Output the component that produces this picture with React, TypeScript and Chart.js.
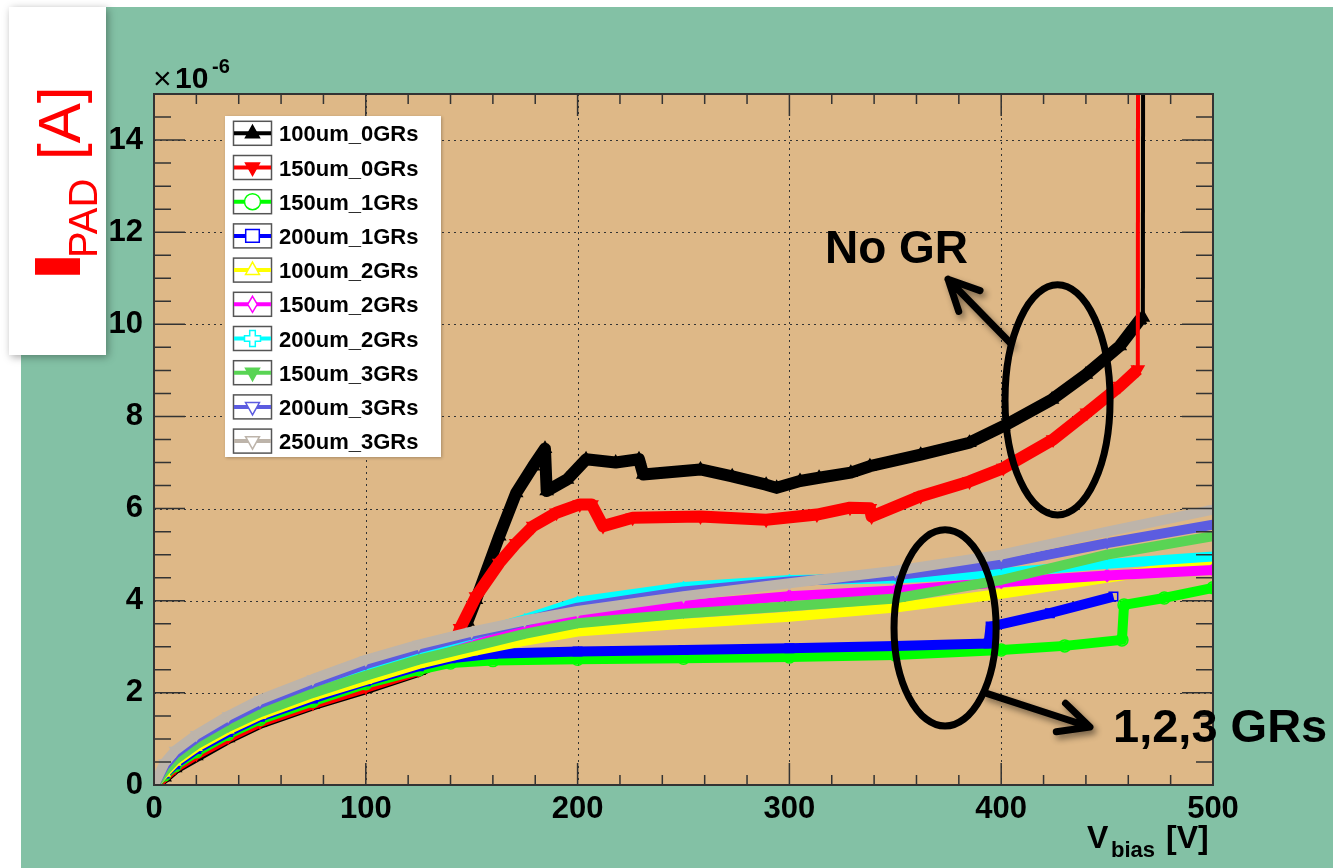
import React, { useEffect, useRef } from 'react';
import { Chart, registerables } from 'chart.js';
Chart.register(...registerables);

const W = 1333;
const H = 868;
const FONT = '"Liberation Sans", Arial, Helvetica, sans-serif';
const GREEN_BG = '#83C1A5';
const TAN_BG = '#DEB887';

// ---------- data (current in units of 1e-6 A, bias in V) ----------
const seriesNames = [
  '100um_0GRs', '150um_0GRs', '150um_1GRs', '200um_1GRs', '100um_2GRs',
  '150um_2GRs', '200um_2GRs', '150um_3GRs', '200um_3GRs', '250um_3GRs',
];

const v100_0 = [0, 5, 10, 20, 35, 50, 75, 100, 125, 140, 148, 152, 163, 171, 179, 184.6, 185.4, 195, 204, 218, 229, 231, 258, 273, 289, 294, 305, 314, 329, 338, 362, 385, 401, 424, 440, 456, 465.5, 466.9, 467];
const i100_0 = [0, 0.17, 0.37, 0.63, 1.02, 1.35, 1.75, 2.1, 2.48, 2.8, 3.55, 4.02, 5.4, 6.34, 6.92, 7.3, 6.38, 6.63, 7.07, 7.0, 7.07, 6.74, 6.85, 6.7, 6.52, 6.45, 6.6, 6.67, 6.78, 6.92, 7.17, 7.43, 7.79, 8.37, 8.91, 9.53, 10.1, 10.15, 16];

const v150_0 = [0, 5, 10, 20, 35, 50, 75, 100, 125, 140, 144.5, 152, 163, 171, 179, 190, 201, 206.6, 212, 226, 258, 289, 313, 328.6, 338, 338.8, 362, 385, 401, 424.5, 440.5, 456, 464.5, 464.6];
const i150_0 = [0, 0.2, 0.4, 0.68, 1.05, 1.38, 1.78, 2.13, 2.5, 2.8, 3.4, 4.09, 4.82, 5.25, 5.62, 5.91, 6.09, 6.09, 5.62, 5.8, 5.83, 5.76, 5.87, 6.02, 6.01, 5.83, 6.27, 6.59, 6.88, 7.5, 8.08, 8.66, 9.02, 16];

const v150_1 = [0, 5, 10, 20, 35, 50, 75, 100, 125, 140, 160, 200, 250, 300, 350, 400, 430, 457, 458, 477, 500];
const i150_1 = [0, 0.22, 0.42, 0.72, 1.1, 1.42, 1.82, 2.2, 2.5, 2.65, 2.7, 2.73, 2.75, 2.78, 2.82, 2.93, 3.02, 3.15, 3.91, 4.06, 4.28];

const v200_1 = [0, 5, 10, 20, 35, 50, 75, 100, 125, 140, 160, 200, 250, 300, 350, 394, 395, 423, 453];
const i200_1 = [0, 0.25, 0.45, 0.78, 1.15, 1.48, 1.88, 2.25, 2.58, 2.75, 2.85, 2.9, 2.93, 2.97, 3.02, 3.07, 3.44, 3.73, 4.09];

const vGR = [0, 5, 10, 20, 35, 50, 75, 100, 125, 150, 175, 200, 250, 300, 350, 400, 450, 500];
const i100_2 = [0, 0.26, 0.5, 0.82, 1.2, 1.52, 1.93, 2.28, 2.63, 2.9, 3.13, 3.33, 3.5, 3.65, 3.85, 4.15, 4.5, 4.85];
const i150_2 = [0, 0.32, 0.56, 0.9, 1.29, 1.62, 2.05, 2.43, 2.8, 3.1, 3.4, 3.66, 3.9, 4.1, 4.22, 4.4, 4.55, 4.67];
const i200_2 = [0, 0.35, 0.6, 0.93, 1.33, 1.66, 2.1, 2.5, 2.9, 3.25, 3.6, 3.98, 4.3, 4.45, 4.48, 4.6, 4.8, 4.96];
const i150_3 = [0, 0.3, 0.55, 0.88, 1.26, 1.58, 2.0, 2.37, 2.72, 3.0, 3.28, 3.51, 3.72, 3.88, 4.05, 4.45, 5.0, 5.4];
const i200_3 = [0, 0.42, 0.68, 1.02, 1.42, 1.77, 2.22, 2.62, 2.97, 3.27, 3.55, 3.85, 4.2, 4.42, 4.55, 4.8, 5.25, 5.65];
const i250_3 = [0, 0.48, 0.75, 1.09, 1.5, 1.85, 2.3, 2.72, 3.05, 3.33, 3.57, 3.78, 4.1, 4.38, 4.65, 5.0, 5.5, 5.98];

const xTickValues = [0, 100, 200, 300, 400, 500];
const yTickValues = [0, 2, 4, 6, 8, 10, 12, 14];

// ---------- styles ----------
const seriesColors = ['#000000', '#FF0000', '#00FF00', '#0000FF', '#FFFF00', '#FF00FF', '#00FFFF', '#59D454', '#5C5CE0', '#BDB4AA'];
const seriesMarkers = ['triangle', 'triangle', 'circle', 'rect', 'triangle', 'rectRot', 'cross', 'triangle', 'triangle', 'triangle'];
const seriesRotation = [0, 180, 0, 0, 0, 0, 0, 180, 180, 180];
const seriesFilled = [true, true, false, false, false, false, false, true, false, false];
const seriesBand = [12, 12, 10, 10, 10, 10, 10, 10, 10, 10];
const seriesRadius = [7, 7, 6, 6, 6, 6, 6, 4, 5, 6];

const seriesV = [v100_0, v150_0, v150_1, v200_1, vGR, vGR, vGR, vGR, vGR, vGR];
const seriesI = [i100_0, i150_0, i150_1, i200_1, i100_2, i150_2, i200_2, i150_3, i200_3, i250_3];

// annotation anchors in data coordinates
const noGrText = { text: 'No GR', v: 316.8, i: 11.33 };
const grText = { text: '1,2,3 GRs', v: 452.8, i: 0.93 };
const ellipseNoGR = { v: 426.6, i: 8.36, rv: 24.8, ri: 2.5 };
const ellipseGR = { v: 373.5, i: 3.41, rv: 24.1, ri: 2.13 };
const arrowNoGR = { v1: 404.2, i1: 9.6, v2: 374.9, i2: 10.98 };
const arrowGR = { v1: 392.4, i1: 2.0, v2: 441.9, i2: 1.26 };

function drawMarker(ctx: CanvasRenderingContext2D, style: string, x: number, y: number, r: number, rot: number, color: string, filled: boolean) {
  ctx.save();
  ctx.translate(x, y);
  ctx.rotate((rot * Math.PI) / 180);
  ctx.beginPath();
  if (style === 'triangle') {
    ctx.moveTo(0, -r);
    ctx.lineTo(r * 0.87, r * 0.55);
    ctx.lineTo(-r * 0.87, r * 0.55);
    ctx.closePath();
  } else if (style === 'circle') {
    ctx.arc(0, 0, r, 0, Math.PI * 2);
  } else if (style === 'rect') {
    ctx.rect(-r * 0.85, -r * 0.8, r * 1.7, r * 1.6);
  } else if (style === 'rectRot') {
    ctx.moveTo(0, -r);
    ctx.lineTo(r * 0.6, 0);
    ctx.lineTo(0, r);
    ctx.lineTo(-r * 0.6, 0);
    ctx.closePath();
  } else if (style === 'cross') {
    const a = r * 0.35;
    ctx.moveTo(-a, -r); ctx.lineTo(a, -r); ctx.lineTo(a, -a); ctx.lineTo(r, -a); ctx.lineTo(r, a);
    ctx.lineTo(a, a); ctx.lineTo(a, r); ctx.lineTo(-a, r); ctx.lineTo(-a, a); ctx.lineTo(-r, a);
    ctx.lineTo(-r, -a); ctx.lineTo(-a, -a); ctx.closePath();
  }
  ctx.fillStyle = filled ? color : '#fff';
  ctx.fill();
  ctx.strokeStyle = color;
  ctx.lineWidth = 1.5;
  ctx.stroke();
  ctx.restore();
}

function drawArrow(ctx: CanvasRenderingContext2D, x1: number, y1: number, x2: number, y2: number) {
  ctx.save();
  ctx.shadowColor = 'rgba(0,0,0,0.45)';
  ctx.shadowBlur = 6;
  ctx.shadowOffsetX = 3;
  ctx.shadowOffsetY = 4;
  ctx.strokeStyle = '#000';
  ctx.lineWidth = 7;
  ctx.lineCap = 'round';
  ctx.lineJoin = 'round';
  const ang = Math.atan2(y1 - y2, x1 - x2);
  const hl = 34;
  const ha = (26 * Math.PI) / 180;
  ctx.beginPath();
  ctx.moveTo(x1, y1);
  ctx.lineTo(x2, y2);
  ctx.moveTo(x2 + hl * Math.cos(ang + ha), y2 + hl * Math.sin(ang + ha));
  ctx.lineTo(x2, y2);
  ctx.lineTo(x2 + hl * Math.cos(ang - ha), y2 + hl * Math.sin(ang - ha));
  ctx.stroke();
  ctx.restore();
}

const rootPlugin = {
  id: 'rootStyle',
  beforeDraw(chart: any) {
    const ctx: CanvasRenderingContext2D = chart.ctx;
    const ca = chart.chartArea;
    ctx.save();
    ctx.fillStyle = '#fff';
    ctx.fillRect(0, 0, W, H);
    ctx.fillStyle = GREEN_BG;
    ctx.fillRect(21, 7, W - 21, H - 7);
    ctx.shadowColor = 'rgba(0,0,0,0.35)';
    ctx.shadowBlur = 8;
    ctx.shadowOffsetX = 2;
    ctx.shadowOffsetY = 2;
    ctx.fillStyle = '#fff';
    ctx.fillRect(9, 7, 97, 348);
    ctx.shadowColor = 'rgba(0,0,0,0)';
    ctx.fillStyle = TAN_BG;
    ctx.fillRect(ca.left, ca.top, ca.right - ca.left, ca.bottom - ca.top);

    // Y title: I_PAD [A]
    ctx.save();
    ctx.translate(80, 277);
    ctx.rotate(-Math.PI / 2);
    ctx.fillStyle = '#FF0000';
    ctx.textBaseline = 'alphabetic';
    ctx.textAlign = 'left';
    ctx.save();
    ctx.scale(1.8, 1);
    ctx.font = `bold 64px ${FONT}`;
    ctx.fillText('I', -3, 0);
    ctx.restore();
    ctx.font = `40px ${FONT}`;
    ctx.fillText('PAD', 19, 17);
    ctx.font = `60px ${FONT}`;
    ctx.fillText('[A]', 117, 0);
    ctx.restore();
    ctx.restore();
  },
  beforeDatasetsDraw(chart: any) {
    const ctx: CanvasRenderingContext2D = chart.ctx;
    const ca = chart.chartArea;
    const xs = chart.scales.x;
    const ys = chart.scales.y;
    ctx.save();
    ctx.strokeStyle = '#333';
    ctx.lineWidth = 1;
    ctx.setLineDash([2, 4]);
    ctx.beginPath();
    for (const v of xTickValues) {
      const px = Math.round(xs.getPixelForValue(v)) + 0.5;
      if (px <= ca.left + 2 || px >= ca.right - 2) continue;
      ctx.moveTo(px, ca.top);
      ctx.lineTo(px, ca.bottom);
    }
    for (const v of yTickValues) {
      const py = Math.round(ys.getPixelForValue(v)) + 0.5;
      if (py >= ca.bottom - 2 || py <= ca.top + 2) continue;
      ctx.moveTo(ca.left, py);
      ctx.lineTo(ca.right, py);
    }
    ctx.stroke();
    ctx.restore();
  },
  afterDatasetsDraw(chart: any) {
    const ctx: CanvasRenderingContext2D = chart.ctx;
    const ca = chart.chartArea;
    const xs = chart.scales.x;
    const ys = chart.scales.y;
    ctx.save();
    ctx.strokeStyle = '#333';
    ctx.lineWidth = 1.5;
    ctx.beginPath();
    for (let v = 0; v <= 500; v += 20) {
      const px = xs.getPixelForValue(v);
      const len = v % 100 === 0 ? 22 : 10;
      ctx.moveTo(px, ca.bottom); ctx.lineTo(px, ca.bottom - len);
      ctx.moveTo(px, ca.top); ctx.lineTo(px, ca.top + len);
    }
    for (let v = 0; v <= 15; v += 0.5) {
      const py = ys.getPixelForValue(v);
      const len = v % 2 === 0 ? 31 : 17;
      ctx.moveTo(ca.left, py); ctx.lineTo(ca.left + len, py);
      ctx.moveTo(ca.right, py); ctx.lineTo(ca.right - len, py);
    }
    ctx.stroke();
    ctx.lineWidth = 2;
    ctx.strokeRect(ca.left, ca.top, ca.right - ca.left, ca.bottom - ca.top);
    ctx.restore();
  },
  afterDraw(chart: any) {
    const ctx: CanvasRenderingContext2D = chart.ctx;
    const xs = chart.scales.x;
    const ys = chart.scales.y;
    const ca = chart.chartArea;
    ctx.save();

    // ×10^-6
    ctx.fillStyle = '#000';
    ctx.textBaseline = 'alphabetic';
    ctx.textAlign = 'left';
    ctx.font = `32px ${FONT}`;
    ctx.fillText('×', ca.left - 1, 89);
    ctx.font = `bold 30px ${FONT}`;
    ctx.fillText('10', 175, 88);
    ctx.font = `bold 20px ${FONT}`;
    ctx.fillText('-6', 212, 73);

    // X title: V_bias [V]
    ctx.font = `bold 32px ${FONT}`;
    ctx.fillText('V', 1087, 848);
    ctx.font = `bold 22px ${FONT}`;
    ctx.fillText('bias', 1111, 857);
    ctx.font = `bold 32px ${FONT}`;
    ctx.fillText('[V]', 1166, 848);

    // Legend
    ctx.save();
    ctx.shadowColor = 'rgba(0,0,0,0.25)';
    ctx.shadowBlur = 3;
    ctx.shadowOffsetX = 1;
    ctx.shadowOffsetY = 1;
    ctx.fillStyle = '#fff';
    ctx.fillRect(225, 116, 216, 341);
    ctx.restore();
    seriesNames.forEach((name, k) => {
      const cy = 133.3 + k * 34.2;
      ctx.strokeStyle = '#555';
      ctx.lineWidth = 1.5;
      ctx.strokeRect(233.5, cy - 12, 38, 24);
      ctx.strokeStyle = seriesColors[k];
      ctx.lineWidth = 4;
      ctx.beginPath();
      ctx.moveTo(234, cy);
      ctx.lineTo(271, cy);
      ctx.stroke();
      drawMarker(ctx, seriesMarkers[k], 252.5, cy, 8, seriesRotation[k], seriesColors[k], seriesFilled[k]);
      ctx.fillStyle = '#000';
      ctx.font = `bold 22px ${FONT}`;
      ctx.fillText(name, 279, cy + 8);
    });

    // Annotations
    ctx.strokeStyle = '#000';
    ctx.lineWidth = 7;
    for (const e of [ellipseNoGR, ellipseGR]) {
      const cx = xs.getPixelForValue(e.v);
      const cy = ys.getPixelForValue(e.i);
      const rx = xs.getPixelForValue(e.v + e.rv) - cx;
      const ry = cy - ys.getPixelForValue(e.i + e.ri);
      ctx.beginPath();
      ctx.ellipse(cx, cy, rx, ry, 0, 0, Math.PI * 2);
      ctx.stroke();
    }
    for (const a of [arrowNoGR, arrowGR]) {
      drawArrow(ctx, xs.getPixelForValue(a.v1), ys.getPixelForValue(a.i1), xs.getPixelForValue(a.v2), ys.getPixelForValue(a.i2));
    }
    ctx.fillStyle = '#000';
    ctx.font = `bold 46px ${FONT}`;
    ctx.fillText(noGrText.text, xs.getPixelForValue(noGrText.v), ys.getPixelForValue(noGrText.i));
    ctx.font = `bold 47px ${FONT}`;
    ctx.fillText(grText.text, xs.getPixelForValue(grText.v), ys.getPixelForValue(grText.i));
    ctx.restore();
  },
};

export default function App() {
  const ref = useRef<HTMLCanvasElement | null>(null);
  useEffect(() => {
    if (!ref.current) return;
    const datasets = seriesNames.map((name, k) => {
      const band = seriesBand[k];
      const rad = seriesRadius[k];
      return {
        label: name,
        data: seriesV[k].map((v, j) => ({ x: v, y: seriesI[k][j] })),
        borderColor: seriesColors[k],
        backgroundColor: seriesColors[k],
        borderWidth: band,
        borderJoinStyle: 'round' as const,
        borderCapStyle: 'butt' as const,
        tension: 0,
        pointStyle: seriesMarkers[k],
        pointRotation: seriesRotation[k],
        pointRadius: (c: any) => (c.raw && c.raw.y > 12 ? 0 : rad),
        pointBorderColor: seriesColors[k],
        pointBackgroundColor: seriesFilled[k] ? seriesColors[k] : 'rgba(0,0,0,0)',
        pointBorderWidth: 1.5,
        order: 10 - k,
        segment: {
          borderWidth: (c: any) => (c.p1.parsed.y > 12 ? 4 : band),
        },
      };
    });
    const tickFont = { family: FONT, weight: 'bold' as const, size: 31 };
    const chart = new Chart(ref.current, {
      type: 'line',
      data: { datasets: datasets as any },
      options: {
        animation: false,
        responsive: false,
        devicePixelRatio: 1,
        events: [],
        layout: { padding: { left: 94, right: 120, top: 94, bottom: 43 } },
        plugins: { legend: { display: false }, tooltip: { enabled: false } },
        scales: {
          x: {
            type: 'linear',
            min: 0,
            max: 500,
            grid: { display: false, drawTicks: false },
            border: { display: false },
            ticks: { font: tickFont, color: '#000', padding: 6, autoSkip: false, maxRotation: 0, callback: (v: any) => String(v) },
            afterBuildTicks: (s: any) => { s.ticks = xTickValues.map((v) => ({ value: v })); },
            afterFit: (s: any) => { s.height = 40; },
          },
          y: {
            type: 'linear',
            min: 0,
            max: 15,
            grid: { display: false, drawTicks: false },
            border: { display: false },
            ticks: { font: tickFont, color: '#000', padding: 11, autoSkip: false, callback: (v: any) => String(v) },
            afterBuildTicks: (s: any) => { s.ticks = yTickValues.map((v) => ({ value: v })); },
            afterFit: (s: any) => { s.width = 60; },
          },
        },
      },
      plugins: [rootPlugin],
    });
    return () => chart.destroy();
  }, []);
  return (
    <div style={{ position: 'absolute', left: 0, top: 0, width: W, height: H }}>
      <canvas ref={ref} width={W} height={H} style={{ display: 'block', width: W, height: H }} />
    </div>
  );
}
